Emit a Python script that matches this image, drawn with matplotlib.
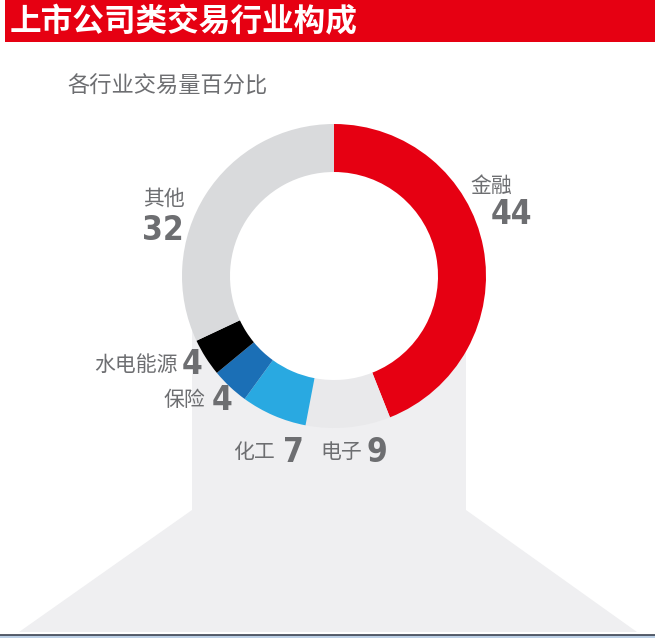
import matplotlib.pyplot as plt
from matplotlib.patches import Rectangle, Polygon, Circle

plt.rcParams['font.family'] = ['Noto Sans CJK SC', 'DejaVu Sans']

# 数据
categories = ['金融', '电子', '化工', '保险', '水电能源', '其他']
values = [44, 9, 7, 4, 4, 32]
colors = ['#e60012', '#e9e9eb', '#29a9e1', '#1b6fb6', '#000000', '#d9dadc']

title = '上市公司类交易行业构成'
subtitle = '各行业交易量百分比'

W, H = 655, 638


def py(y):
    # 像素坐标 (从上往下) -> 数据坐标
    return H - y


fig = plt.figure(figsize=(6.55, 6.38), dpi=100)
ax = fig.add_axes([0, 0, 1, 1])
ax.set_xlim(0, W)
ax.set_ylim(0, H)
ax.axis('off')

# 背景灰色形状
bg = Polygon([(192, py(290)), (466, py(290)), (466, py(510)), (637, py(632)),
              (19, py(632)), (192, py(510))],
             closed=True, facecolor='#efeff1', edgecolor='none', zorder=0)
ax.add_patch(bg)

# 底部边框
ax.add_patch(Rectangle((0, py(638)), W, 3, facecolor='#bcd0e6', edgecolor='none', zorder=1))
ax.axhline(py(634.5), color='#3c4352', linewidth=1.2, zorder=2)

# 标题栏
ax.add_patch(Rectangle((5, py(42)), W - 5, 42, facecolor='#e60012', edgecolor='none', zorder=1))
ax.text(10, py(22), title, color='white', fontsize=22.8, fontweight='bold',
        ha='left', va='center', zorder=3)
ax.text(67, py(86), subtitle, color='#6d6e71', fontsize=16,
        ha='left', va='center', zorder=3)

# 环形图
center = (334, py(276))
ax.add_patch(Circle(center, 106, facecolor='white', edgecolor='none', zorder=0.5))
ax.pie(values, colors=colors, startangle=90, counterclock=False,
       radius=152, center=center,
       wedgeprops=dict(width=48, edgecolor='none', linewidth=0))
ax.set_xlim(0, W)
ax.set_ylim(0, H)
ax.set_aspect('auto')

# 标签
label_pos = {
    '金融': dict(name=(470, 186), num=(491, 214), stack=True),
    '其他': dict(name=(143, 199), num=(142, 231), stack=True),
    '水电能源': dict(name=(178, 365), num=(182, 365), stack=False),
    '保险': dict(name=(205, 400), num=(212, 400), stack=False),
    '化工': dict(name=(275, 452), num=(283, 452), stack=False),
    '电子': dict(name=(362, 452), num=(367, 452), stack=False),
}
for cat, val in zip(categories, values):
    p = label_pos[cat]
    ha = 'left' if p['stack'] else 'right'
    ax.text(p['name'][0], py(p['name'][1]), cat, fontsize=15, color='#6d6e71',
            ha=ha, va='center', zorder=4)
    ax.text(p['num'][0], py(p['num'][1]), str(val), fontsize=24, color='#6d6e71',
            fontweight='bold', family='DejaVu Sans', fontstretch='condensed',
            ha='left', va='center', zorder=4)

fig.savefig('out.png', dpi=100)
